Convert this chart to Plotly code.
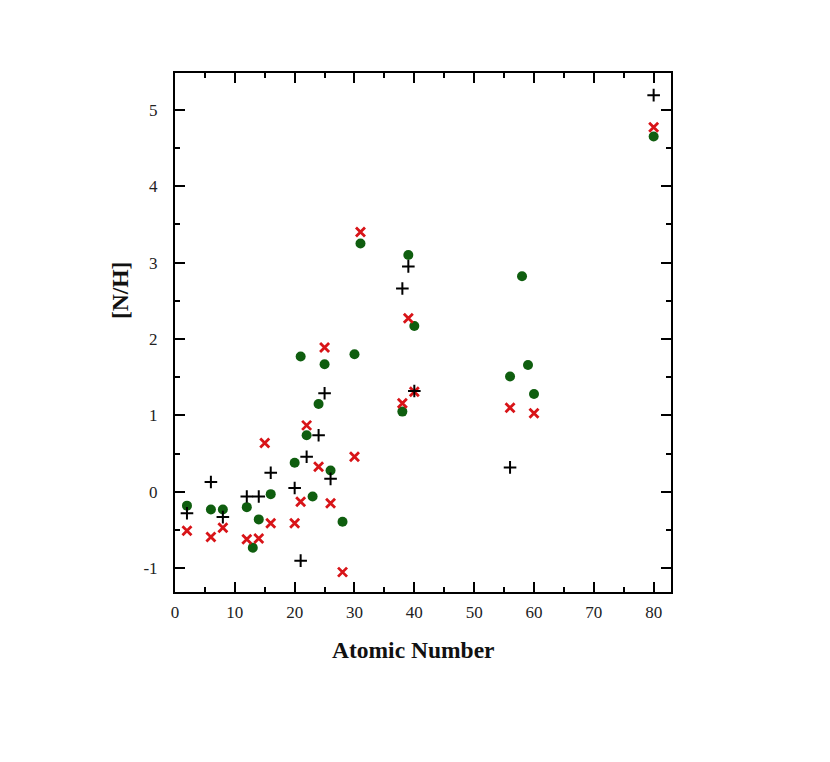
import plotly.graph_objects as go

# Green circles
green_z = [2, 6, 8, 12, 13, 14, 16, 20, 21, 22, 23, 24, 25, 26, 28, 30, 31, 38, 39, 40, 56, 58, 59, 60, 80]
green_y = [-0.18, -0.23, -0.23, -0.20, -0.73, -0.36, -0.03, 0.38, 1.77, 0.74, -0.06, 1.15, 1.67, 0.28,
           -0.39, 1.80, 3.25, 1.05, 3.10, 2.17, 1.51, 2.82, 1.66, 1.28, 4.65]

# Red crosses
red_z = [2, 6, 8, 12, 14, 15, 16, 20, 21, 22, 24, 25, 26, 28, 30, 31, 38, 39, 40, 56, 60, 80]
red_y = [-0.51, -0.59, -0.47, -0.62, -0.61, 0.64, -0.41, -0.41, -0.13, 0.87, 0.33, 1.89, -0.15,
         -1.05, 0.46, 3.40, 1.16, 2.27, 1.31, 1.10, 1.03, 4.77]

# Black plus
black_z = [2, 6, 8, 12, 14, 16, 20, 21, 22, 24, 25, 26, 38, 39, 40, 56, 80]
black_y = [-0.28, 0.13, -0.33, -0.06, -0.06, 0.25, 0.05, -0.90, 0.46, 0.74, 1.29, 0.17, 2.66, 2.95,
           1.32, 0.32, 5.19]

x_tick_vals = [0, 10, 20, 30, 40, 50, 60, 70, 80]
x_tick_labels = ["0", "10", "20", "30", "40", "50", "60", "70", "80"]
y_tick_vals = [-1, 0, 1, 2, 3, 4, 5]
y_tick_labels = ["-1", "0", "1", "2", "3", "4", "5"]

fig = go.Figure()
fig.add_trace(go.Scatter(x=green_z, y=green_y, mode="markers",
                         marker=dict(symbol="circle", size=10, color="#0f5e0f", line=dict(width=0))))
fig.add_trace(go.Scatter(x=red_z, y=red_y, mode="markers",
                         marker=dict(symbol="x-thin", size=9, color="#d81418",
                                     line=dict(width=2.8, color="#d81418"))))
fig.add_trace(go.Scatter(x=black_z, y=black_y, mode="markers",
                         marker=dict(symbol="cross-thin", size=9, color="black",
                                     line=dict(width=2, color="black"))))

serif = "Liberation Serif, Times New Roman, serif"
tickfont = dict(family=serif, size=17, color="#222")

# body margin of 8px in the rendered page
OFF = 8
L, R, T, B = 175 - OFF, 830 - (671 - OFF), 73 - OFF, 762 - (592 - OFF)

fig.update_layout(
    width=830, height=762,
    margin=dict(l=L, r=R, t=T, b=B),
    plot_bgcolor="white", paper_bgcolor="white",
    showlegend=False,
    xaxis=dict(range=[0, 82.9], tickvals=x_tick_vals, ticktext=x_tick_labels,
               ticks="inside", ticklen=10, tickwidth=2, tickcolor="black",
               minor=dict(ticks="inside", ticklen=5, tickwidth=2, tickcolor="black", dtick=5, tick0=0,
                          showgrid=False),
               showline=True, linewidth=2, linecolor="black", mirror="allticks",
               showgrid=False, zeroline=False, tickfont=tickfont, ticklabelstandoff=4),
    yaxis=dict(range=[-1.31, 5.48], tickvals=y_tick_vals, ticktext=y_tick_labels,
               ticks="inside", ticklen=10, tickwidth=2, tickcolor="black",
               minor=dict(ticks="inside", ticklen=5, tickwidth=2, tickcolor="black", dtick=0.5, tick0=0,
                          showgrid=False),
               showline=True, linewidth=2, linecolor="black", mirror="allticks",
               showgrid=False, zeroline=False, tickfont=tickfont, ticklabelstandoff=12),
)

pw = 830 - L - R
ph = 762 - T - B


def to_paper(px, py):
    return (px - OFF - L) / pw, 1 - (py - OFF - T) / ph


ax_x, ax_y = to_paper(413, 650)
ay_x, ay_y = to_paper(120, 291)
fig.update_layout(annotations=[
    dict(text="<b>Atomic Number</b>", x=ax_x, y=ax_y, xref="paper", yref="paper", showarrow=False,
         xanchor="center", yanchor="middle",
         font=dict(family=serif, size=23.5, color="#111")),
    dict(text="<b>[N/H]</b>", x=ay_x, y=ay_y, xref="paper", yref="paper", showarrow=False, textangle=-90,
         xanchor="center", yanchor="middle",
         font=dict(family=serif, size=23.5, color="#111")),
])

fig.write_html("out.html")
